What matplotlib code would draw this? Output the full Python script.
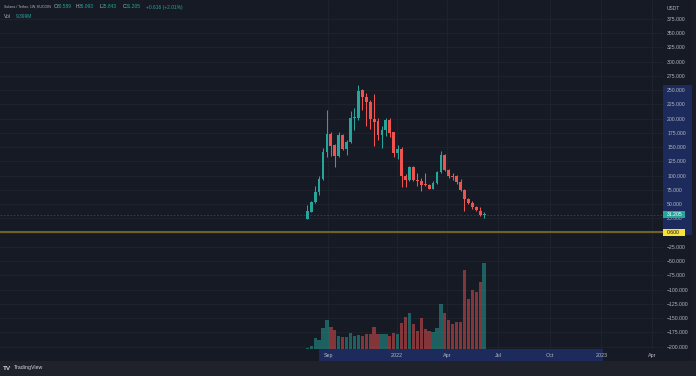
import matplotlib
matplotlib.use('Agg')
import matplotlib.pyplot as plt
import matplotlib.dates as mdates
import matplotlib.transforms as mtransforms
from matplotlib.patches import Rectangle
from matplotlib.ticker import FixedLocator, FuncFormatter
import pandas as pd

# ---------------- data ----------------
first_week = '2021-07-26'
opens = [24.0, 37.0, 53.2, 72.0, 94.3, 141.0, 174.0, 153.0, 134.0, 172.0,
         147.0, 159.0, 201.5, 201.5, 249.6, 237.8, 229.6, 199.7, 195.6, 172.0,
         179.8, 197.4, 176.3, 140.0, 147.6, 99.0, 92.0, 114.8, 93.0, 90.0,
         86.0, 83.7, 77.3, 87.8, 106.6, 137.0, 110.7, 100.0, 98.9, 89.6,
         75.0, 58.5, 52.7, 45.0, 38.6, 30.589]
highs = [49.0, 55.0, 81.4, 99.0, 148.8, 216.0, 176.0, 156.0, 177.0, 174.0,
         163.5, 213.0, 218.0, 260.0, 252.5, 245.5, 233.7, 242.5, 201.5, 186.8,
         201.5, 201.5, 177.0, 154.6, 150.0, 103.0, 117.7, 117.0, 104.8, 96.0,
         104.8, 86.0, 90.0, 107.7, 142.9, 138.8, 111.9, 104.8, 101.9, 94.3,
         76.0, 60.9, 55.0, 47.4, 44.5, 36.093]
lows = [23.8, 36.0, 52.0, 66.7, 93.0, 133.0, 134.0, 115.0, 133.0, 145.0,
        137.0, 158.0, 181.0, 197.0, 216.0, 187.0, 182.0, 151.7, 163.5, 148.8,
        169.0, 168.0, 133.0, 129.4, 81.0, 81.0, 90.0, 90.0, 82.6, 74.0,
        82.6, 76.7, 76.7, 86.0, 104.8, 107.7, 96.0, 93.0, 86.0, 73.8,
        37.4, 50.9, 41.5, 37.4, 28.6, 25.843]
closes = [37.4, 53.8, 72.0, 94.3, 141.0, 174.0, 151.7, 134.0, 172.0, 147.0,
          159.0, 201.5, 203.0, 248.4, 237.8, 229.6, 199.7, 195.0, 172.0, 179.8,
          197.4, 175.2, 140.0, 147.6, 99.0, 92.0, 114.8, 92.0, 90.0, 84.3,
          83.0, 77.3, 87.8, 106.6, 137.0, 109.5, 99.0, 97.8, 89.6, 75.0,
          59.1, 52.1, 44.5, 39.2, 30.4, 31.205]
volumes_m = [0.15, 0.33, 1.16, 0.94, 2.25, 3.16, 2.36, 2.07, 1.45, 1.34,
             1.27, 1.74, 1.38, 1.56, 1.45, 1.67, 1.67, 2.43, 1.60, 1.60,
             1.60, 1.45, 1.78, 1.63, 2.83, 3.52, 3.88, 2.69, 1.92, 3.34,
             2.21, 1.92, 1.89, 2.29, 4.90, 3.88, 3.16, 2.69, 2.98, 2.98,
             8.64, 5.44, 6.42, 6.17, 7.29, 9.399]

price_ticks = [-200, -175, -150, -125, -100, -75, -50, -25, 0, 25, 50, 75, 100,
               125, 150, 175, 200, 225, 250, 275, 300, 325, 350, 375]
time_tick_dates = ['2021-09-01', '2022-01-01', '2022-04-01', '2022-07-01',
                   '2022-10-01', '2023-01-01', '2023-04-01']
time_tick_labels = ['Sep', '2022', 'Apr', 'Jul', 'Oct', '2023', 'Apr']
last_price = 31.205
hline_price = 0.6
band_price_low, band_price_high = -4, 259
band_date_start, band_date_end = '2021-08-16', '2023-01-03'

# ---------------- styling ----------------
BG = '#161a25'
GRID = '#20242f'
TXT = '#b2b5be'
UP = '#26a69a'
DN = '#ef5350'
BAND = '#1d2b5c'
FOOT = '#1f222b'
SANS = ['Liberation Sans', 'DejaVu Sans']

W, H = 696, 376
pane_right, pane_bottom = 663, 349
first_px, px_per_day = 307.3, 0.5614
y_top_price, y_bot_price = 408.3, -204.1
vol_top = 38.0

plt.rcParams['font.family'] = SANS
fig = plt.figure(figsize=(W / 100, H / 100), dpi=100, facecolor=BG)
rect = [0, (H - pane_bottom) / H, pane_right / W, pane_bottom / H]
ax = fig.add_axes(rect)
ax.set_facecolor(BG)

dates = mdates.date2num(pd.date_range(first_week, periods=len(opens), freq='7D'))
base = dates[0]
ax.set_xlim(base - first_px / px_per_day, base + (pane_right - first_px) / px_per_day)
ax.set_ylim(y_bot_price, y_top_price)

# candles
colors = [UP if c >= o else DN for o, c in zip(opens, closes)]
ax.vlines(dates, lows, highs, colors=colors, linewidth=0.75, zorder=3)
bottoms = [min(o, c) for o, c in zip(opens, closes)]
heights = [max(abs(c - o), 1.6) for o, c in zip(opens, closes)]
ax.bar(dates, heights, bottom=bottoms, width=5.0, color=colors, linewidth=0, zorder=4)

# horizontal lines
ax.axhline(last_price, color=UP, alpha=0.4, linewidth=0.6, linestyle=(0, (2, 2)), zorder=2)
ax.axhline(hline_price, color='#6e6128', linewidth=1.5, zorder=2)

# axes ticks / grid
for s in ax.spines.values():
    s.set_visible(False)
ax.yaxis.tick_right()
ax.yaxis.set_major_locator(FixedLocator(price_ticks))
ax.yaxis.set_major_formatter(FuncFormatter(lambda v, p: f"{v:.3f}".replace('-', '\u2212')))
tick_nums = mdates.date2num(pd.to_datetime(time_tick_dates))
ax.set_xticks(tick_nums)
ax.set_xticklabels(time_tick_labels)
ax.tick_params(axis='y', length=0, pad=3, labelsize=3.7, labelcolor=TXT)
ax.tick_params(axis='x', length=0, pad=3.2, labelsize=3.9, labelcolor=TXT)
ax.grid(True, color=GRID, linewidth=0.6, zorder=0)
ax.set_axisbelow(True)

# highlighted axis bands
blend_y = mtransforms.blended_transform_factory(ax.transAxes, ax.transData)
ax.add_patch(Rectangle((1.0, band_price_low), 692 / pane_right - 1.0,
                       band_price_high - band_price_low, transform=blend_y,
                       facecolor=BAND, edgecolor='none', clip_on=False, zorder=0.5))
blend_x = mtransforms.blended_transform_factory(ax.transData, ax.transAxes)
bx0 = mdates.date2num(pd.Timestamp(band_date_start))
bx1 = mdates.date2num(pd.Timestamp(band_date_end))
ax.add_patch(Rectangle((bx0, -12 / pane_bottom), bx1 - bx0, 12 / pane_bottom,
                       transform=blend_x, facecolor=BAND, edgecolor='none',
                       clip_on=False, zorder=0.5))

# price labels
box_h = 7 / 0.5699
box_w = 685 / pane_right - 1.0
ax.add_patch(Rectangle((1.0, last_price - box_h / 2), box_w, box_h, transform=blend_y,
                       facecolor=UP, edgecolor='none', clip_on=False, zorder=5))
ax.text(667 / pane_right, last_price, f"{last_price:.3f}", transform=blend_y,
        ha='left', va='center', fontsize=3.7, color='white', zorder=6, clip_on=False)
ax.add_patch(Rectangle((1.0, hline_price - box_h / 2), box_w, box_h, transform=blend_y,
                       facecolor='#f5e13a', edgecolor='none', clip_on=False, zorder=5))
ax.text(667 / pane_right, hline_price, f"{hline_price:.3f}", transform=blend_y,
        ha='left', va='center', fontsize=3.7, color='#131722', zorder=6, clip_on=False)

# volume overlay
vax = fig.add_axes(rect, sharex=ax)
vax.patch.set_visible(False)
vax.set_ylim(0, vol_top)
vax.axis('off')
vax.bar(dates, volumes_m, width=5.9, color=colors, alpha=0.5, linewidth=0)

# footer and right strip
fig.patches.append(Rectangle((0, 0), 1, 15 / H, transform=fig.transFigure,
                             facecolor=FOOT, edgecolor='none', zorder=-1))
fig.patches.append(Rectangle((691 / W, 15 / H), 5 / W, 1 - 15 / H, transform=fig.transFigure,
                             facecolor='#1a1d27', edgecolor='none', zorder=-1))


def ftext(xp, yp, s, color=TXT, size=3.9, weight='normal'):
    fig.text(xp / W, 1 - yp / H, s, ha='left', va='center', color=color,
             fontsize=size, weight=weight)


# header
ftext(4, 7, 'Solana / Tether, 1W, KUCOIN', size=2.65)
ftext(53.5, 7, 'O', size=3.5)
ftext(56.5, 7, f"{opens[-1]:.3f}", color=UP, size=3.5)
ftext(76, 7, 'H', size=3.5)
ftext(79, 7, f"{highs[-1]:.3f}", color=UP, size=3.5)
ftext(99.5, 7, 'L', size=3.5)
ftext(102, 7, f"{lows[-1]:.3f}", color=UP, size=3.5)
ftext(122.5, 7, 'C', size=3.5)
ftext(126, 7, f"{closes[-1]:.3f}", color=UP, size=3.5)
chg = closes[-1] - opens[-1]
ftext(146.5, 7, f"+{chg:.3f} (+{chg / opens[-1] * 100:.2f}%)", color=UP, size=3.5)
ftext(4, 16.5, 'Vol', size=3.5)
ftext(16, 16.5, f"{volumes_m[-1]:.3f}M", color=UP, size=3.5)
ftext(667, 8, 'USDT', size=3.5)

# TradingView logo
ftext(3, 368, 'TV', size=4.6, weight='bold', color='#d1d4dc')
ftext(13.5, 368, 'TradingView', size=3.8, color='#d1d4dc')

fig.savefig('out.png', dpi=100, facecolor=BG)
